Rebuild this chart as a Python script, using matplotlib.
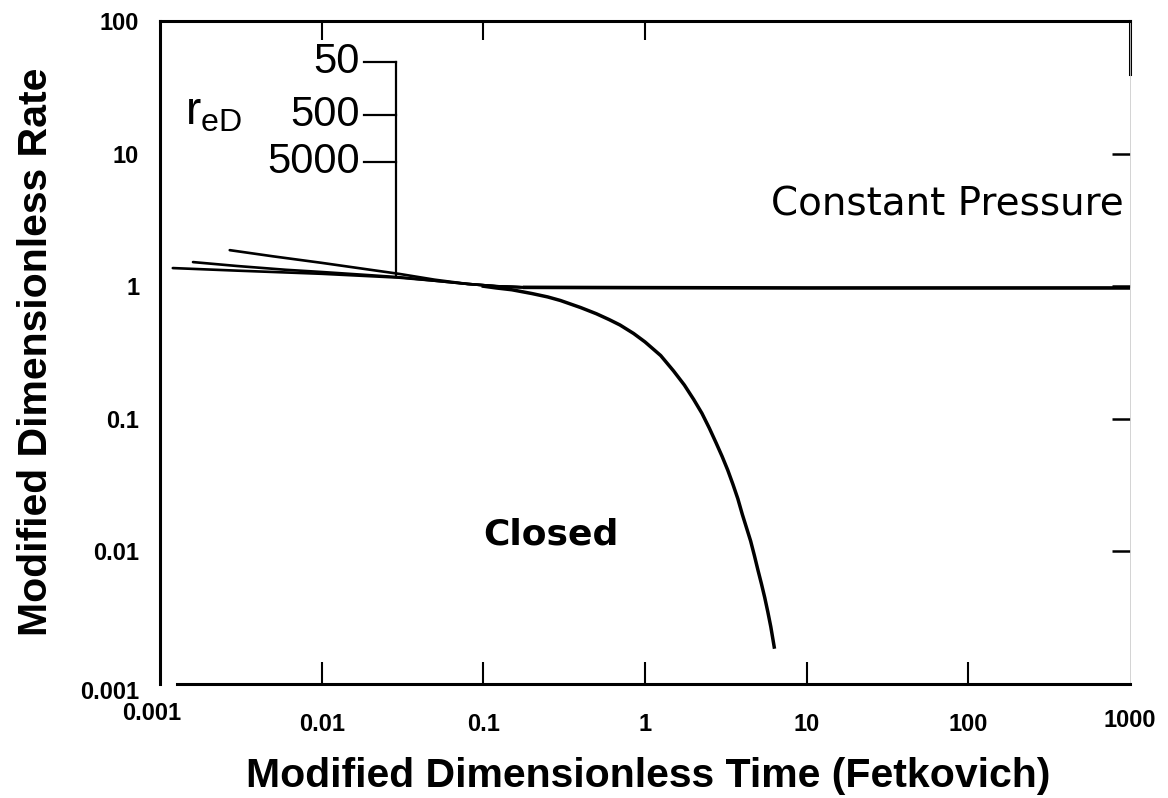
import matplotlib
matplotlib.use("Agg")
import matplotlib.pyplot as plt
from matplotlib.ticker import NullLocator
from matplotlib.transforms import ScaledTranslation

# values (log-log type curves)
t_red50 = [0.0027, 0.005, 0.01, 0.02, 0.03, 0.05, 0.08, 0.12, 0.18]
q_red50 = [1.87, 1.68, 1.50, 1.33, 1.24, 1.12, 1.04, 1.00, 0.98]

t_red500 = [0.0016, 0.003, 0.006, 0.01, 0.02, 0.03, 0.05, 0.08, 0.12, 0.18]
q_red500 = [1.52, 1.42, 1.33, 1.28, 1.21, 1.17, 1.10, 1.04, 1.00, 0.98]

t_red5000 = [0.0012, 0.003, 0.01, 0.03, 0.05, 0.08, 0.12, 0.18]
q_red5000 = [1.37, 1.31, 1.24, 1.16, 1.10, 1.04, 1.00, 0.98]

t_const = [0.18, 1, 10, 100, 1000]
q_const = [0.98, 0.975, 0.97, 0.97, 0.97]

t_closed = [0.1, 0.12, 0.15, 0.2, 0.25, 0.3, 0.4, 0.5, 0.6, 0.7, 0.85, 1.0,
            1.25, 1.5, 1.75, 2.0, 2.25, 2.5, 2.75, 3.0, 3.25, 3.5, 3.75,
            4.0, 4.25, 4.5, 4.75, 5.0, 5.25, 5.5, 5.75, 6.0, 6.3]
q_closed = [1.0, 0.97, 0.94, 0.88, 0.83, 0.78, 0.69, 0.62, 0.56, 0.51, 0.44,
            0.38, 0.30, 0.23, 0.18, 0.14, 0.11, 0.085, 0.066, 0.052, 0.041,
            0.032, 0.025, 0.019, 0.015, 0.012, 0.0093, 0.0072, 0.0057,
            0.0045, 0.0035, 0.0027, 0.0019]

red_labels = ["50", "500", "5000"]
red_label_q = [49, 19.5, 8.7]
bracket_t = 0.029
bracket_q_bottom = 1.2

x_ticks = [0.001, 0.01, 0.1, 1, 10, 100, 1000]
x_tick_labels = ["0.001", "0.01", "0.1", "1", "10", "100", "1000"]
y_ticks = [0.001, 0.01, 0.1, 1, 10, 100]
y_tick_labels = ["0.001", "0.01", "0.1", "1", "10", "100"]

plt.rcParams['font.family'] = ['Liberation Sans', 'DejaVu Sans']

fig = plt.figure(figsize=(11.68, 7.98), dpi=100)
ax = fig.add_axes([160 / 1168, 114 / 798, 970 / 1168, 663 / 798])
ax.set_xscale('log')
ax.set_yscale('log')
ax.set_xlim(1e-3, 1e3)
ax.set_ylim(1e-3, 1e2)

# curves
ax.plot(t_red50, q_red50, color='black', lw=1.9, solid_capstyle='round')
ax.plot(t_red500, q_red500, color='black', lw=1.9, solid_capstyle='round')
ax.plot(t_red5000, q_red5000, color='black', lw=1.9, solid_capstyle='round')
ax.plot(t_const, q_const, color='black', lw=2.6)
ax.plot(t_closed, q_closed, color='black', lw=2.5)

# r_eD bracket
ax.plot([bracket_t, bracket_t], [red_label_q[0], bracket_q_bottom], color='black', lw=1.6)
for lab, q in zip(red_labels, red_label_q):
    ax.plot([bracket_t * 0.63, bracket_t], [q, q], color='black', lw=1.6)
    ax.annotate(lab, (bracket_t * 0.63, q), xytext=(-3, 0), textcoords='offset points',
                ha='right', va='center', fontsize=30)
ax.text(0.00142, 20.5, r"r$_{\mathregular{eD}}$", ha='left', va='center', fontsize=33)

ax.text(0.262, 0.0133, "Closed", fontsize=26, fontweight='bold', family='DejaVu Sans',
        ha='center', va='center')
ax.text(74.7, 4.1, "Constant Pressure", fontsize=28, family='DejaVu Sans',
        ha='center', va='center')

# axes styling
for side in ['left', 'top', 'bottom']:
    ax.spines[side].set_linewidth(2.2)
ax.spines['bottom'].set_bounds(0.00128, 1000)
ax.spines['right'].set_linewidth(0.6)
ax.spines['right'].set_color('#cccccc')
ax.plot([1, 1], [0.92, 1], transform=ax.transAxes, color='black', lw=2.2,
        clip_on=False)

ax.set_xticks(x_ticks, x_tick_labels)
ax.set_yticks(y_ticks, y_tick_labels)
ax.xaxis.set_minor_locator(NullLocator())
ax.yaxis.set_minor_locator(NullLocator())
ax.tick_params(axis='x', direction='in', length=16, width=1.5, top=True,
               bottom=True, pad=21, labelsize=17)
ax.tick_params(axis='y', direction='in', length=13, width=1.8, left=False,
               right=True, pad=15, labelsize=17)
for lab in ax.get_xticklabels() + ax.get_yticklabels():
    lab.set_fontweight('bold')
for tick, v in zip(ax.yaxis.get_major_ticks(), y_ticks):
    tick.tick2line.set_visible(v not in (0.001, 100))
for tick, v in zip(ax.xaxis.get_major_ticks(), x_ticks):
    tick.tick1line.set_visible(v not in (0.001, 1000))
    tick.tick2line.set_visible(v in (0.01, 0.1, 1))
    tick.tick2line.set_markersize(14)

# odd offsets of the corner labels in the original
xl = ax.get_xticklabels()
xl[0].set_transform(xl[0].get_transform() + ScaledTranslation(-6 / 72, 8 / 72, fig.dpi_scale_trans))
xl[-1].set_transform(xl[-1].get_transform() + ScaledTranslation(0, 3 / 72, fig.dpi_scale_trans))
yl = ax.get_yticklabels()
yl[0].set_transform(yl[0].get_transform() + ScaledTranslation(0, -4 / 72, fig.dpi_scale_trans))

fig.text(648 / 1168, 1 - 787 / 798, "Modified Dimensionless Time (Fetkovich)",
         fontweight='bold', fontsize=29.5, ha='center', va='baseline')
fig.text(36 / 1168, 1 - 352 / 798, "Modified Dimensionless Rate", rotation=90,
         fontweight='bold', fontsize=29.5, ha='center', va='center')

fig.savefig("out.png", dpi=100)
